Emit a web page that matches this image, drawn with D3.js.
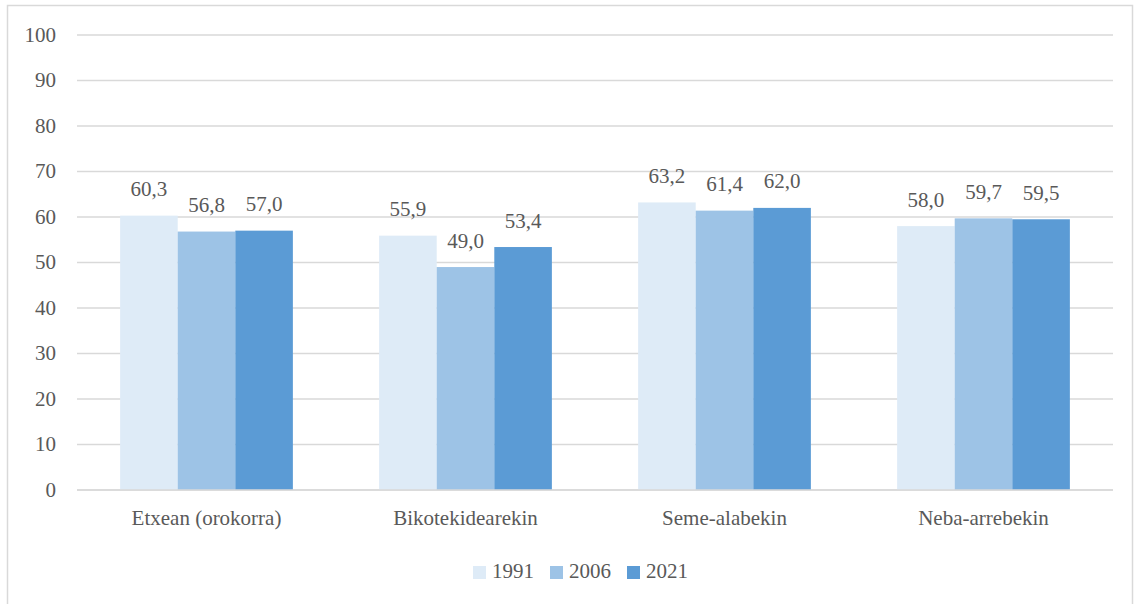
<!DOCTYPE html>
<html>
<head>
<meta charset="utf-8">
<script src="https://cdn.jsdelivr.net/npm/d3@7"></script>
<style>
  body { margin: 0; background: #fff; }
  svg { display: block; }
</style>
</head>
<body>
<div id="chart"></div>
<script>
var categories = ["Etxean (orokorra)", "Bikotekidearekin", "Seme-alabekin", "Neba-arrebekin"];
var years = ["1991", "2006", "2021"];
var values1991 = [60.3, 55.9, 63.2, 58.0];
var values2006 = [56.8, 49.0, 61.4, 59.7];
var values2021 = [57.0, 53.4, 62.0, 59.5];
var yTicks = [0, 10, 20, 30, 40, 50, 60, 70, 80, 90, 100];
var colors = ["#deebf7", "#9dc3e6", "#5b9bd5"];

var width = 1134,
    height = 604,
    fontSize = 21;

var svg = d3.select("#chart")
    .append("svg")
    .attr("width", width)
    .attr("height", height)
    .attr("font-family", "Liberation Serif")
    .attr("font-size", fontSize)
    .attr("fill", "#595959");

// chart border (right/bottom edges fall outside)
svg.append("rect")
    .attr("x", 7.5)
    .attr("y", 5.5)
    .attr("width", 1125)
    .attr("height", 640)
    .attr("fill", "none")
    .attr("stroke", "#d9d9d9")
    .attr("stroke-width", 1.5);

var plot = { left: 77, right: 1113, top: 35, bottom: 490 };

var x0 = d3.scaleBand()
    .domain(categories)
    .range([plot.left, plot.right])
    .paddingInner(0.333)
    .paddingOuter(0.1665);

var x1 = d3.scaleBand()
    .domain(years)
    .range([0, x0.bandwidth()]);

var y = d3.scaleLinear()
    .domain([0, 100])
    .range([plot.bottom, plot.top]);

// gridlines
svg.append("g")
    .selectAll("line")
    .data(yTicks)
    .enter().append("line")
    .attr("x1", plot.left)
    .attr("x2", plot.right)
    .attr("y1", function(d) { return y(d); })
    .attr("y2", function(d) { return y(d); })
    .attr("stroke", "#d9d9d9")
    .attr("stroke-width", 1.5);

// y labels
svg.append("g")
    .selectAll("text")
    .data(yTicks)
    .enter().append("text")
    .attr("x", 56)
    .attr("y", function(d) { return y(d); })
    .attr("dy", "0.33em")
    .attr("text-anchor", "end")
    .text(function(d) { return d; });

var series = [values1991, values2006, values2021];
var rows = [];
categories.forEach(function(c, i) {
    years.forEach(function(yr, j) {
        rows.push({ cat: c, year: yr, value: series[j][i], color: colors[j] });
    });
});

var fmt = function(v) { return v.toFixed(1).replace(".", ","); };

svg.append("g")
    .selectAll("rect")
    .data(rows)
    .enter().append("rect")
    .attr("x", function(d) { return x0(d.cat) + x1(d.year); })
    .attr("y", function(d) { return y(d.value); })
    .attr("width", x1.bandwidth())
    .attr("height", function(d) { return y(0) - y(d.value); })
    .attr("fill", function(d) { return d.color; });

// redraw baseline over bars
svg.append("line")
    .attr("x1", plot.left)
    .attr("x2", plot.right)
    .attr("y1", y(0))
    .attr("y2", y(0))
    .attr("stroke", "#d9d9d9")
    .attr("stroke-width", 1.5);

// value labels
svg.append("g")
    .selectAll("text")
    .data(rows)
    .enter().append("text")
    .attr("x", function(d) { return x0(d.cat) + x1(d.year) + x1.bandwidth() / 2; })
    .attr("y", function(d) { return y(d.value) - 19.5; })
    .attr("text-anchor", "middle")
    .text(function(d) { return fmt(d.value); });

// category labels
svg.append("g")
    .selectAll("text")
    .data(categories)
    .enter().append("text")
    .attr("x", function(d) { return x0(d) + x0.bandwidth() / 2; })
    .attr("y", 525)
    .attr("text-anchor", "middle")
    .text(function(d) { return d; });

// legend
var legend = svg.append("g")
    .selectAll("g")
    .data(years)
    .enter().append("g")
    .attr("transform", function(d, i) { return "translate(" + (473 + i * 77) + ",566)"; });

legend.append("rect")
    .attr("width", 13)
    .attr("height", 13)
    .attr("fill", function(d, i) { return colors[i]; });

legend.append("text")
    .attr("x", 19)
    .attr("y", 11.5)
    .text(function(d) { return d; });
</script>
</body>
</html>
